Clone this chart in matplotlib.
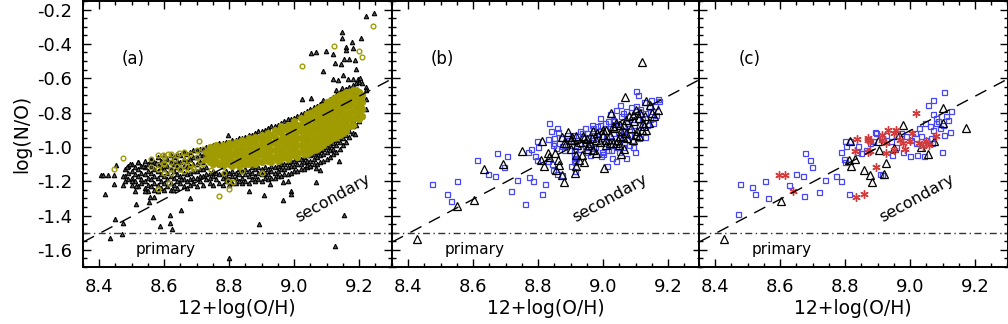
import numpy as np
import matplotlib
matplotlib.use('Agg')
import matplotlib.pyplot as plt
from matplotlib.ticker import MultipleLocator

# ---------------- panel (a) ----------------
# dense cloud read column by column: (12+log(O/H), [log(N/O), ...])
tri_a_cols = [
    (8.48, [-1.13, -1.17, -1.20]), (8.49, [-1.11, -1.15, -1.19]),
    (8.50, [-1.10, -1.14, -1.18, -1.22]), (8.51, [-1.12, -1.16, -1.20]),
    (8.52, [-1.09, -1.13, -1.17, -1.23]), (8.53, [-1.11, -1.15, -1.19, -1.21]),
    (8.54, [-1.08, -1.12, -1.16, -1.20, -1.24]), (8.55, [-1.10, -1.14, -1.18, -1.22, -1.26]),
    (8.56, [-1.07, -1.11, -1.15, -1.19, -1.23]), (8.57, [-1.09, -1.13, -1.17, -1.21, -1.25]),
    (8.58, [-1.06, -1.10, -1.14, -1.18, -1.22, -1.26]), (8.59, [-1.08, -1.12, -1.16, -1.20, -1.24]),
    (8.60, [-1.05, -1.09, -1.13, -1.17, -1.21, -1.25]), (8.61, [-1.07, -1.11, -1.15, -1.19, -1.23]),
    (8.62, [-1.05, -1.09, -1.13, -1.17, -1.21, -1.25]), (8.63, [-1.06, -1.10, -1.14, -1.18, -1.22]),
    (8.64, [-1.04, -1.08, -1.12, -1.16, -1.20, -1.24]), (8.65, [-1.05, -1.09, -1.13, -1.17, -1.21]),
    (8.66, [-1.03, -1.07, -1.11, -1.15, -1.19, -1.23]), (8.67, [-1.04, -1.08, -1.12, -1.16, -1.20, -1.24]),
    (8.68, [-1.03, -1.07, -1.11, -1.15, -1.19, -1.22]), (8.69, [-1.02, -1.06, -1.10, -1.14, -1.18, -1.21]),
    (8.70, [-1.02, -1.06, -1.10, -1.14, -1.18, -1.23]), (8.71, [-1.01, -1.05, -1.09, -1.13, -1.17, -1.20]),
    (8.72, [-1.01, -1.05, -1.09, -1.13, -1.17, -1.22]), (8.73, [-1.00, -1.04, -1.12, -1.16, -1.19]),
    (8.74, [-1.00, -1.08, -1.15, -1.18, -1.21]), (8.75, [-0.99, -1.06, -1.14, -1.17, -1.22]),
    (8.76, [-0.99, -1.03, -1.15, -1.19]), (8.77, [-0.98, -1.10, -1.16, -1.21]),
    (8.78, [-0.98, -1.05, -1.15, -1.18, -1.22]), (8.79, [-0.97, -1.14, -1.17, -1.20]),
    (8.80, [-0.97, -1.08, -1.15, -1.19, -1.22]), (8.81, [-0.96, -1.14, -1.17, -1.21]),
    (8.82, [-0.96, -1.03, -1.15, -1.18, -1.21]), (8.83, [-0.95, -1.13, -1.16, -1.20]),
    (8.84, [-0.95, -1.10, -1.14, -1.18, -1.21]), (8.85, [-0.94, -1.13, -1.16, -1.20]),
    (8.86, [-0.93, -1.00, -1.14, -1.17, -1.21]), (8.87, [-0.93, -1.12, -1.15, -1.19]),
    (8.88, [-0.92, -1.08, -1.13, -1.17, -1.20]), (8.89, [-0.91, -1.12, -1.15, -1.19]),
    (8.90, [-0.91, -0.98, -1.13, -1.16, -1.20]), (8.91, [-0.90, -1.12, -1.15, -1.18]),
    (8.92, [-0.89, -1.06, -1.13, -1.16, -1.19]), (8.93, [-0.88, -1.11, -1.14, -1.18]),
    (8.94, [-0.88, -0.95, -1.12, -1.15, -1.18]), (8.95, [-0.87, -1.11, -1.14, -1.17]),
    (8.96, [-0.86, -1.02, -1.10, -1.13, -1.17]), (8.97, [-0.85, -1.10, -1.13, -1.16]),
    (8.98, [-0.84, -0.92, -1.09, -1.12, -1.16]), (8.99, [-0.84, -1.08, -1.11, -1.15]),
    (9.00, [-0.83, -0.98, -1.08, -1.11, -1.14]), (9.01, [-0.82, -1.07, -1.10, -1.14]),
    (9.02, [-0.81, -0.90, -1.07, -1.10, -1.13]), (9.03, [-0.80, -1.06, -1.09, -1.13]),
    (9.04, [-0.79, -0.95, -1.05, -1.08, -1.12]), (9.05, [-0.78, -1.05, -1.08, -1.11]),
    (9.06, [-0.77, -0.86, -1.04, -1.07, -1.10]), (9.07, [-0.76, -1.03, -1.06, -1.10]),
    (9.08, [-0.75, -0.92, -1.02, -1.05, -1.09]), (9.09, [-0.74, -1.01, -1.04, -1.08]),
    (9.10, [-0.73, -0.84, -1.00, -1.03, -1.07]), (9.11, [-0.72, -0.99, -1.02, -1.06]),
    (9.12, [-0.71, -0.89, -0.98, -1.01, -1.04]), (9.13, [-0.70, -0.96, -0.99, -1.03]),
    (9.14, [-0.68, -0.80, -0.94, -0.97, -1.01]), (9.15, [-0.67, -0.92, -0.95, -0.99]),
    (9.16, [-0.66, -0.86, -0.90, -0.93, -0.97]), (9.17, [-0.65, -0.74, -0.88, -0.91, -0.94]),
    (9.18, [-0.64, -0.70, -0.85, -0.88, -0.92]), (9.19, [-0.63, -0.69, -0.78, -0.83, -0.87]),
    (9.20, [-0.62, -0.68, -0.75, -0.80, -0.85]), (9.21, [-0.63, -0.70, -0.76, -0.82]),
    (9.22, [-0.65, -0.72, -0.78]),
]
tri_a_out = [
    (8.417, -1.273), (8.406, -1.162), (8.411, -1.166), (8.427, -1.162), (8.447, -1.162),
    (8.447, -1.215), (8.432, -1.530), (8.470, -1.510), (8.449, -1.420), (8.474, -1.444),
    (8.452, -1.104), (8.473, -1.172), (8.473, -1.220), (8.500, -1.196), (8.514, -1.230),
    (8.509, -1.260), (8.512, -1.330), (8.540, -1.260), (8.555, -1.295), (8.570, -1.295),
    (8.553, -1.324), (8.565, -1.410), (8.586, -1.460), (8.618, -1.396), (8.618, -1.444),
    (8.625, -1.480), (8.653, -1.370), (8.800, -1.650), (8.795, -0.930), (8.678, -1.300),
    (8.652, -1.190), (8.627, -1.250), (8.485, -1.120), (8.495, -1.100), (8.520, -1.090),
    (8.535, -1.110), (8.560, -1.080), (8.575, -1.095),
    (8.860, -1.258), (8.907, -1.283), (8.966, -1.308), (8.992, -1.260), (8.992, -1.273),
    (8.892, -1.448), (9.067, -1.207), (9.138, -1.085), (9.153, -1.396), (9.126, -1.577),
    (9.188, -0.923), (9.080, -1.133), (9.067, -1.123), (9.039, -1.104), (9.048, -1.114),
    (8.925, -1.215), (8.966, -1.207), (8.981, -1.200),
    (9.220, -0.239), (9.245, -0.219), (9.147, -0.330), (9.147, -0.365), (9.207, -0.365),
    (9.178, -0.388), (9.160, -0.420), (9.160, -0.433), (9.182, -0.424), (9.097, -0.443),
    (9.053, -0.453), (9.068, -0.449), (9.120, -0.460), (9.155, -0.488), (9.168, -0.488),
    (9.188, -0.496), (9.126, -0.511), (9.144, -0.515), (9.089, -0.556), (9.192, -0.546),
    (9.152, -0.579), (9.120, -0.602), (9.135, -0.608), (9.166, -0.602), (9.181, -0.602),
    (9.197, -0.602), (9.204, -0.598), (9.130, -0.667), (9.148, -0.657), (9.160, -0.663),
    (9.025, -0.720), (9.053, -0.715), (9.089, -0.725), (9.220, -0.667),
]
# olive subsample: scattered open circles on the metal-poor side ...
olive_a_sparse = [
    (8.56, [-1.07, -1.12]), (8.58, [-1.05, -1.13]), (8.60, [-1.06, -1.10, -1.15]),
    (8.62, [-1.04, -1.09, -1.13]), (8.64, [-1.05, -1.11]), (8.66, [-1.03, -1.08, -1.14]),
    (8.68, [-1.04, -1.10, -1.13]), (8.70, [-1.02, -1.06, -1.12]),
    (8.71, [-1.08]), (8.72, [-1.01, -1.10]),
]
# ... and a crowded core where the rings merge into one band
olive_a_cols = [
    (8.73, [-1.03, -1.07]), (8.74, [-1.00, -1.04, -1.09]),
    (8.75, [-1.02, -1.06, -1.10]), (8.76, [-0.99, -1.03, -1.08]),
    (8.77, [-1.01, -1.05, -1.10]), (8.78, [-0.99, -1.03, -1.07, -1.11]),
    (8.79, [-1.00, -1.05, -1.09]), (8.80, [-0.98, -1.02, -1.06, -1.10]),
    (8.81, [-0.99, -1.04, -1.08, -1.11]), (8.82, [-0.97, -1.01, -1.05, -1.09]),
    (8.83, [-0.98, -1.03, -1.07, -1.11]), (8.84, [-0.96, -1.00, -1.04, -1.08]),
    (8.85, [-0.97, -1.02, -1.06, -1.10]), (8.86, [-0.95, -0.99, -1.03, -1.07, -1.10]),
    (8.87, [-0.96, -1.01, -1.05, -1.09]), (8.88, [-0.94, -0.98, -1.02, -1.06, -1.10]),
    (8.89, [-0.95, -1.00, -1.04, -1.08]), (8.90, [-0.93, -0.97, -1.01, -1.05, -1.09]),
    (8.91, [-0.94, -0.99, -1.03, -1.07]), (8.92, [-0.92, -0.96, -1.00, -1.04, -1.08]),
    (8.93, [-0.93, -0.98, -1.02, -1.06, -1.09]), (8.94, [-0.90, -0.94, -0.98, -1.02, -1.06]),
    (8.95, [-0.91, -0.96, -1.00, -1.04, -1.08]), (8.96, [-0.88, -0.92, -0.96, -1.00, -1.04, -1.07]),
    (8.97, [-0.89, -0.94, -0.98, -1.02, -1.06]), (8.98, [-0.87, -0.91, -0.95, -0.99, -1.03, -1.07]),
    (8.99, [-0.88, -0.93, -0.97, -1.01, -1.05]),
    (9.00, [-0.85, -0.89, -0.93, -0.97, -1.01, -1.05]),
    (9.01, [-0.87, -0.91, -0.95, -0.99, -1.03, -1.06]),
    (9.02, [-0.83, -0.87, -0.91, -0.95, -0.99, -1.03]),
    (9.03, [-0.84, -0.89, -0.93, -0.97, -1.01, -1.04]),
    (9.04, [-0.81, -0.85, -0.89, -0.93, -0.97, -1.01, -1.04]),
    (9.05, [-0.80, -0.84, -0.88, -0.92, -0.96, -1.00, -1.03]),
    (9.06, [-0.79, -0.83, -0.87, -0.91, -0.95, -0.99, -1.02]),
    (9.07, [-0.78, -0.82, -0.86, -0.90, -0.94, -0.98, -1.01]),
    (9.08, [-0.77, -0.81, -0.85, -0.89, -0.93, -0.97, -1.00]),
    (9.09, [-0.76, -0.80, -0.84, -0.88, -0.92, -0.96, -0.99]),
    (9.10, [-0.74, -0.78, -0.82, -0.86, -0.90, -0.94, -0.97]),
    (9.11, [-0.73, -0.77, -0.81, -0.85, -0.89, -0.93, -0.96]),
    (9.12, [-0.72, -0.76, -0.80, -0.84, -0.88, -0.92, -0.95]),
    (9.13, [-0.71, -0.75, -0.79, -0.83, -0.87, -0.91, -0.94]),
    (9.14, [-0.70, -0.74, -0.78, -0.82, -0.86, -0.90, -0.93]),
    (9.15, [-0.69, -0.73, -0.77, -0.81, -0.85, -0.89, -0.92]),
    (9.16, [-0.68, -0.72, -0.76, -0.80, -0.84, -0.88, -0.91]),
    (9.17, [-0.68, -0.72, -0.76, -0.80, -0.84, -0.88]),
    (9.18, [-0.67, -0.71, -0.75, -0.79, -0.83, -0.87]),
    (9.19, [-0.67, -0.71, -0.75, -0.79, -0.83]),
    (9.20, [-0.68, -0.72, -0.76, -0.80, -0.84]),
    (9.21, [-0.70, -0.74, -0.78, -0.82]),
]
olive_a_out = [
    (9.244, -0.293), (9.122, -0.410), (9.200, -0.443), (9.208, -0.476), (9.025, -0.527),
    (9.207, -0.715), (8.706, -0.968), (8.473, -1.065), (8.445, -1.129), (8.580, -1.244),
    (8.770, -1.285), (8.800, -1.246), (8.596, -1.046), (8.611, -1.042), (8.645, -1.036),
    (8.584, -1.104), (8.598, -1.094), (8.657, -1.104), (8.614, -1.211), (8.796, -1.200),
    (8.811, -1.207), (8.632, -1.072), (8.668, -1.060), (8.690, -1.125), (8.622, -1.150),
    (8.648, -1.130), (8.745, -1.135), (8.785, -1.150), (8.840, -1.140), (8.900, -1.150),
]

# ---------------- panel (b) ----------------
tri_b = [
    (9.121, -0.507), (8.551, -1.347), (8.602, -1.312), (8.634, -1.127), (8.692, -1.100),
    (8.749, -1.026), (8.813, -0.966), (8.810, -1.075), (8.817, -1.110), (8.830, -1.036),
    (8.833, -1.061), (8.851, -1.036), (8.861, -1.075), (8.864, -1.104), (8.875, -1.162),
    (8.880, -1.207), (8.856, -1.133), (8.875, -0.943), (8.892, -0.916), (8.902, -1.013),
    (8.918, -1.046), (8.926, -1.075), (8.936, -1.046), (8.942, -1.088), (8.949, -0.954),
    (8.918, -1.114), (8.915, -1.153), (8.969, -1.017), (8.979, -1.036), (9.002, -1.123),
    (9.063, -1.013), (9.056, -1.042), (9.049, -0.988), (9.025, -0.803), (9.066, -0.709),
    (9.133, -0.735), (9.143, -0.754), (9.169, -0.783), (9.156, -0.822), (8.428, -1.536),
    (8.979, -0.958), (8.999, -0.929), (9.010, -0.900), (9.030, -0.881), (9.051, -0.871),
    (9.071, -0.842), (9.092, -0.812), (9.102, -0.783), (9.112, -0.832), (9.123, -0.861),
    (9.133, -0.900), (9.112, -0.939), (9.092, -0.958), (9.071, -0.919), (9.051, -0.939),
    (9.041, -0.978), (9.020, -0.978), (8.969, -0.910), (8.959, -0.978), (8.938, -0.939),
    (8.918, -0.939), (8.902, -0.958), (8.887, -0.978),
    (8.880, -0.980), (8.900, -0.960), (8.920, -0.990), (8.940, -0.950), (8.955, -0.990),
    (8.965, -0.950), (8.980, -0.920), (8.990, -0.970), (9.000, -0.900), (9.010, -0.960),
    (9.020, -0.930), (9.035, -0.890), (9.045, -0.960), (9.055, -0.910), (9.065, -0.870),
    (9.075, -0.950), (9.085, -0.890), (9.095, -0.850), (9.105, -0.910), (9.115, -0.800),
    (9.125, -0.880), (9.130, -0.820), (9.140, -0.860), (9.150, -0.800), (9.060, -0.940),
    (9.030, -0.980), (8.970, -1.020), (8.930, -0.970), (9.100, -0.930), (9.040, -0.860),
    (9.080, -0.820), (9.010, -0.990), (8.950, -1.010), (8.905, -0.940), (9.120, -0.900),
]
sq_b = [
    (8.474, -1.217), (8.520, -1.275), (8.533, -1.314), (8.551, -1.197), (8.612, -1.079),
    (8.646, -1.157), (8.667, -1.168), (8.674, -1.036), (8.703, -1.056), (8.694, -1.118),
    (8.715, -1.260), (8.736, -1.192), (8.760, -1.332), (8.772, -1.176), (8.784, -1.196),
    (8.797, -1.075), (8.768, -1.030), (8.778, -1.011), (8.790, -1.056), (8.800, -1.003),
    (8.797, -0.968), (8.811, -1.273), (8.822, -1.217), (8.846, -1.133), (8.844, -1.098),
    (8.858, -1.160), (8.873, -1.162), (8.830, -1.081), (8.833, -0.861), (8.839, -0.910),
    (8.848, -0.951), (8.861, -0.916), (8.858, -0.890), (8.848, -0.978), (8.829, -0.952),
    (8.909, -1.017), (8.913, -1.091), (8.918, -1.065), (8.913, -1.143), (8.910, -1.075),
    (8.902, -1.110), (8.953, -1.001), (8.969, -1.007), (8.995, -1.056), (9.013, -1.110),
    (8.998, -1.032), (9.025, -1.017), (9.028, -1.062), (9.041, -1.085), (9.071, -1.065),
    (9.092, -1.001), (9.097, -1.032), (9.063, -0.910), (9.076, -0.881), (9.153, -0.861),
    (9.164, -0.812), (9.148, -0.725), (9.172, -0.735), (9.102, -0.677), (9.107, -0.696),
    (9.051, -0.754), (9.041, -0.783), (9.061, -0.803), (9.030, -0.842), (9.015, -0.852),
    (8.989, -0.871), (8.969, -0.890), (8.949, -0.919), (8.928, -0.910), (8.907, -0.929),
    (8.892, -0.958), (8.872, -0.997), (8.856, -1.007), (8.846, -0.988),
    (8.870, -0.950), (8.880, -1.020), (8.890, -0.930), (8.900, -0.990), (8.910, -1.040),
    (8.920, -0.960), (8.930, -1.010), (8.935, -0.920), (8.940, -0.980), (8.950, -1.030),
    (8.955, -0.940), (8.960, -0.970), (8.970, -0.930), (8.975, -1.000), (8.980, -0.880),
    (8.985, -0.950), (8.990, -0.910), (9.000, -0.980), (9.005, -0.860), (9.010, -0.940),
    (9.015, -1.020), (9.020, -0.890), (9.025, -0.960), (9.030, -0.920), (9.035, -0.850),
    (9.040, -1.000), (9.045, -0.880), (9.050, -0.950), (9.055, -0.820), (9.060, -0.900),
    (9.065, -0.970), (9.070, -0.790), (9.075, -0.860), (9.080, -0.930), (9.085, -0.770),
    (9.090, -0.840), (9.095, -0.900), (9.100, -0.760), (9.105, -0.810), (9.110, -0.870),
    (9.115, -0.780), (9.120, -0.830), (9.125, -0.740), (9.130, -0.800), (9.140, -0.770),
    (9.145, -0.840), (9.150, -0.790), (9.160, -0.760), (9.170, -0.720), (9.135, -0.870),
    (9.000, -1.040), (8.960, -1.050), (9.050, -1.030), (9.080, -0.990), (9.110, -0.950),
    (9.130, -0.940), (9.090, -0.960), (9.060, -1.000), (8.945, -0.890), (8.965, -0.870),
    (8.990, -0.830), (9.020, -0.810),
]

# ---------------- panel (c) ----------------
tri_c = [
    (8.428, -1.536), (8.602, -1.314), (8.812, -1.075), (8.830, -1.071), (8.818, -1.110),
    (8.816, -0.964), (8.858, -1.137), (8.876, -1.162), (8.884, -1.207), (8.925, -1.094),
    (8.920, -1.157), (8.904, -1.017), (8.901, -0.968), (9.173, -0.890), (9.101, -0.773),
    (9.101, -0.861), (9.075, -0.968), (9.055, -1.042), (9.035, -1.001), (8.952, -1.007),
    (8.978, -0.871), (8.965, -0.930),
]
sq_c = [
    (8.471, -1.392), (8.476, -1.217), (8.514, -1.234), (8.522, -1.275), (8.553, -1.197),
    (8.563, -1.298), (8.628, -1.221), (8.648, -1.157), (8.669, -1.168), (8.676, -1.036),
    (8.691, -1.075), (8.698, -1.118), (8.674, -1.285), (8.720, -1.264), (8.738, -1.192),
    (8.773, -1.172), (8.786, -1.196), (8.786, -1.028), (8.801, -0.968), (8.804, -0.997),
    (8.816, -0.968), (8.795, -1.069), (8.801, -1.091), (8.813, -1.273),
    (9.104, -0.680), (9.055, -0.754), (9.072, -0.729), (9.127, -0.793), (9.111, -0.822),
    (9.116, -0.842), (9.101, -0.875), (9.124, -0.916), (9.103, -0.933), (9.070, -0.807),
    (9.079, -0.832), (9.086, -0.852), (9.060, -0.881), (9.070, -0.900), (9.093, -0.890),
    (9.081, -0.861), (9.045, -0.861), (9.029, -0.890), (9.014, -0.919), (9.035, -0.939),
    (9.050, -0.958), (9.065, -0.948), (9.019, -0.978), (9.004, -0.958), (8.988, -0.939),
    (8.973, -0.919), (8.958, -0.939), (8.942, -0.968), (8.927, -0.929), (8.912, -0.948),
    (8.896, -0.919), (8.886, -0.968), (8.876, -0.978), (9.099, -1.027), (9.068, -0.978),
    (9.042, -1.056), (9.021, -1.046), (8.999, -1.056), (8.978, -1.027), (8.958, -1.001),
    (8.945, -1.046), (8.893, -0.916), (8.906, -1.160), (8.912, -1.165), (8.863, -1.017),
    (8.841, -0.993), (8.850, -1.035), (8.838, -1.032),
]
star_c = [
    (8.597, -1.166), (8.614, -1.166), (8.638, -1.256), (8.835, -1.295), (8.859, -1.275),
    (8.830, -1.022), (8.838, -0.954), (8.870, -0.958), (8.876, -0.968), (8.878, -1.026),
    (8.896, -1.118), (9.017, -0.803), (8.932, -0.900), (8.958, -0.900), (8.952, -0.919),
    (8.968, -0.958), (8.912, -0.929), (8.912, -0.958), (8.925, -0.978), (8.978, -0.978),
    (8.999, -0.968), (9.029, -0.978), (9.040, -0.997), (9.007, -0.919), (9.050, -0.968),
    (9.058, -0.988), (9.081, -0.939), (8.870, -1.027), (8.927, -1.036), (8.950, -1.017),
    (8.983, -1.011), (8.871, -0.948),
]

panel_labels = ['(a)', '(b)', '(c)']
secondary_x = [9.12, 9.02, 9.02]
xticks = [8.4, 8.6, 8.8, 9.0, 9.2]
yticks = [-1.6, -1.4, -1.2, -1.0, -0.8, -0.6, -0.4, -0.2]
primary_level = -1.5
secondary_offset = -9.905   # log(N/O) = 12+log(O/H) + offset
xlim = (8.35, 9.30)
ylim = (-1.70, -0.15)

OLIVE = '#a09b00'
BLUE = '#4646f5'
RED = '#d23c3c'


def flatten(cols):
    return [(x, y) for x, ys in cols for y in ys]


def draw(ax, pts, **kw):
    a = np.array(pts)
    ax.plot(a[:, 0], a[:, 1], ls='none', **kw)


fig = plt.figure(figsize=(10.08, 3.24), dpi=100)
W, H = 1008., 324.
lefts = [83, 392, 699]
width = 308.5
axes = [fig.add_axes([l / W, 57 / H, width / W, 266 / H]) for l in lefts]

small_tri = dict(marker='^', ms=3.2, mfc='#555555', mec='k', mew=0.8)
big_tri = dict(marker='^', ms=5.2, mfc='none', mec='k', mew=0.9)
square = dict(marker='s', ms=3.6, mfc='none', mec=BLUE, mew=0.9)
ring = dict(marker='o', ms=3.4, mfc='none', mec=OLIVE, mew=1.0)

# (a)
ax = axes[0]
draw(ax, flatten(tri_a_cols) + tri_a_out, **small_tri)
draw(ax, flatten(olive_a_cols), marker='o', ms=4.6, mfc=OLIVE, mec=OLIVE, mew=0.6)
draw(ax, flatten(olive_a_sparse) + olive_a_out, **ring)
# (b)
ax = axes[1]
draw(ax, sq_b, **square)
draw(ax, tri_b, **big_tri)
# (c)
ax = axes[2]
draw(ax, sq_c, **square)
draw(ax, tri_c, **big_tri)
draw(ax, star_c, marker=(6, 2, 0), ms=6, mec=RED, mew=1.0)

line_x = np.array(xlim)
for i, ax in enumerate(axes):
    ax.plot(line_x, line_x + secondary_offset, color='k', lw=1.0, ls=(0, (9, 6)))
    ax.axhline(primary_level, color='#333333', lw=1.0, ls=(0, (5, 2.5, 1, 2.5)))
    ax.set_xlim(*xlim)
    ax.set_ylim(*ylim)
    ax.set_xticks(xticks)
    ax.set_yticks(yticks)
    ax.xaxis.set_minor_locator(MultipleLocator(0.05))
    ax.yaxis.set_minor_locator(MultipleLocator(0.05))
    ax.tick_params(which='both', direction='in', top=True, right=True, labelsize=13, width=1.0)
    ax.tick_params(which='major', length=6, pad=8)
    ax.tick_params(which='minor', length=3)
    for s in ax.spines.values():
        s.set_linewidth(1.4)
    ax.xaxis.set_major_formatter(plt.FormatStrFormatter('%.1f'))
    ax.set_xlabel('12+log(O/H)', fontsize=13.5, labelpad=2)
    if i > 0:
        ax.tick_params(labelleft=False)
    ax.text(8.505, -0.49, panel_labels[i], fontsize=12, ha='center', va='center')
    ax.text(8.605, -1.6, 'primary', fontsize=11, ha='center', va='center')
    ax.text(secondary_x[i], -1.297, 'secondary', fontsize=11.5, ha='center', va='center',
            rotation=29, rotation_mode='anchor')

axes[0].yaxis.set_major_formatter(plt.FormatStrFormatter('%.1f'))
axes[0].set_ylabel('log(N/O)', fontsize=13.5, labelpad=4)

fig.savefig('out.png', dpi=100)
